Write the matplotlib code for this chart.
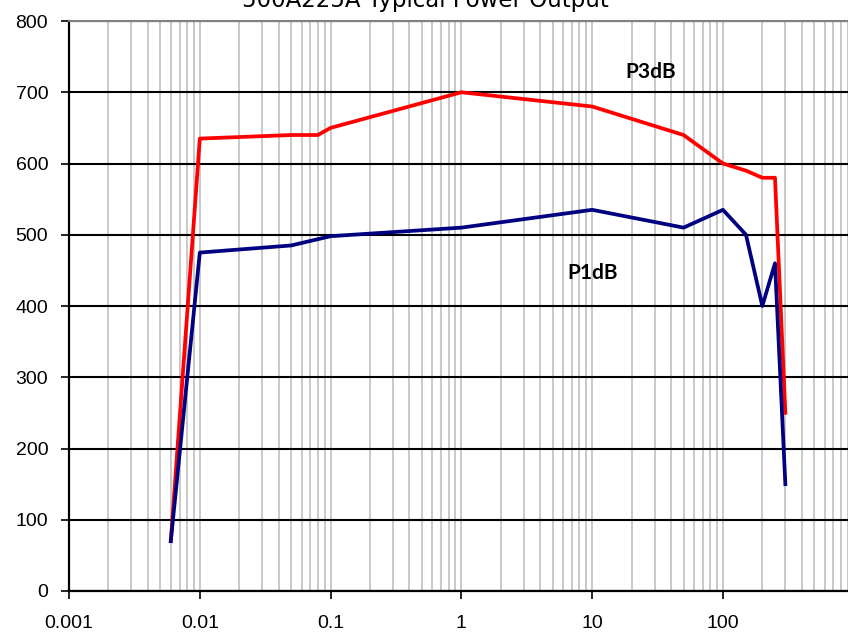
import matplotlib
matplotlib.use("Agg")
from matplotlib import pyplot as plt
from matplotlib.ticker import LogLocator, NullFormatter, FixedLocator

plt.rcParams['font.family'] = ['Liberation Sans', 'DejaVu Sans']

# frequency (MHz) and output power (W)
p3db_freq = [0.006, 0.01, 0.05, 0.08, 0.1, 1, 10, 50, 100, 150, 200, 250, 300]
p3db_watts = [70, 635, 640, 640, 650, 700, 680, 640, 600, 590, 580, 580, 250]

p1db_freq = [0.006, 0.01, 0.05, 0.1, 1, 10, 50, 100, 150, 200, 250, 300]
p1db_watts = [70, 475, 485, 498, 510, 535, 510, 535, 500, 400, 460, 150]

x_ticks = [0.001, 0.01, 0.1, 1, 10, 100]
x_labels = ['0.001', '0.01', '0.1', '1', '10', '100']
y_ticks = [0, 100, 200, 300, 400, 500, 600, 700, 800]

fig = plt.figure(figsize=(8.48, 6.35), dpi=100)
ax = fig.add_axes([0.0814, 0.0693, 0.9186, 0.8976])

ax.set_xscale('log')
ax.set_xlim(0.001, 904)
ax.set_ylim(0, 800)

# vertical grid: every decade subdivision in light gray
ax.xaxis.set_major_locator(FixedLocator(x_ticks))
ax.xaxis.set_minor_locator(LogLocator(base=10, subs=range(2, 10), numticks=20))
ax.xaxis.set_minor_formatter(NullFormatter())
ax.set_xticklabels(x_labels)
ax.grid(True, which='both', axis='x', color='#c0c0c0', lw=1.2)
ax.set_yticks(y_ticks)
ax.grid(True, which='major', axis='y', color='black', lw=1.5)
ax.set_axisbelow(True)

ax.plot(p3db_freq, p3db_watts, color='#ff0000', lw=2.7, zorder=3)
ax.plot(p1db_freq, p1db_watts, color='#000080', lw=2.7, zorder=3)

ax.text(28, 728, 'P3dB', fontsize=15, fontweight='bold', family='Lato',
        ha='center', va='center')
ax.text(10, 446, 'P1dB', fontsize=15, fontweight='bold', family='Lato',
        ha='center', va='center')

for side in ['left', 'bottom']:
    ax.spines[side].set_color('black')
    ax.spines[side].set_linewidth(1.6)
ax.spines['top'].set_color('#808080')
ax.spines['top'].set_linewidth(1.5)
ax.spines['right'].set_visible(False)

ax.tick_params(axis='both', which='major', direction='out', length=6, width=1.2,
               labelsize=14)
ax.tick_params(axis='y', pad=9)
ax.tick_params(axis='x', pad=11)
ax.tick_params(axis='x', which='minor', length=0)

fig.text(0.502, 0.989, '500A225A Typical Power Output', fontsize=16.5,
         family='DejaVu Sans', ha='center', va='baseline')

fig.savefig('out.png', dpi=100)
